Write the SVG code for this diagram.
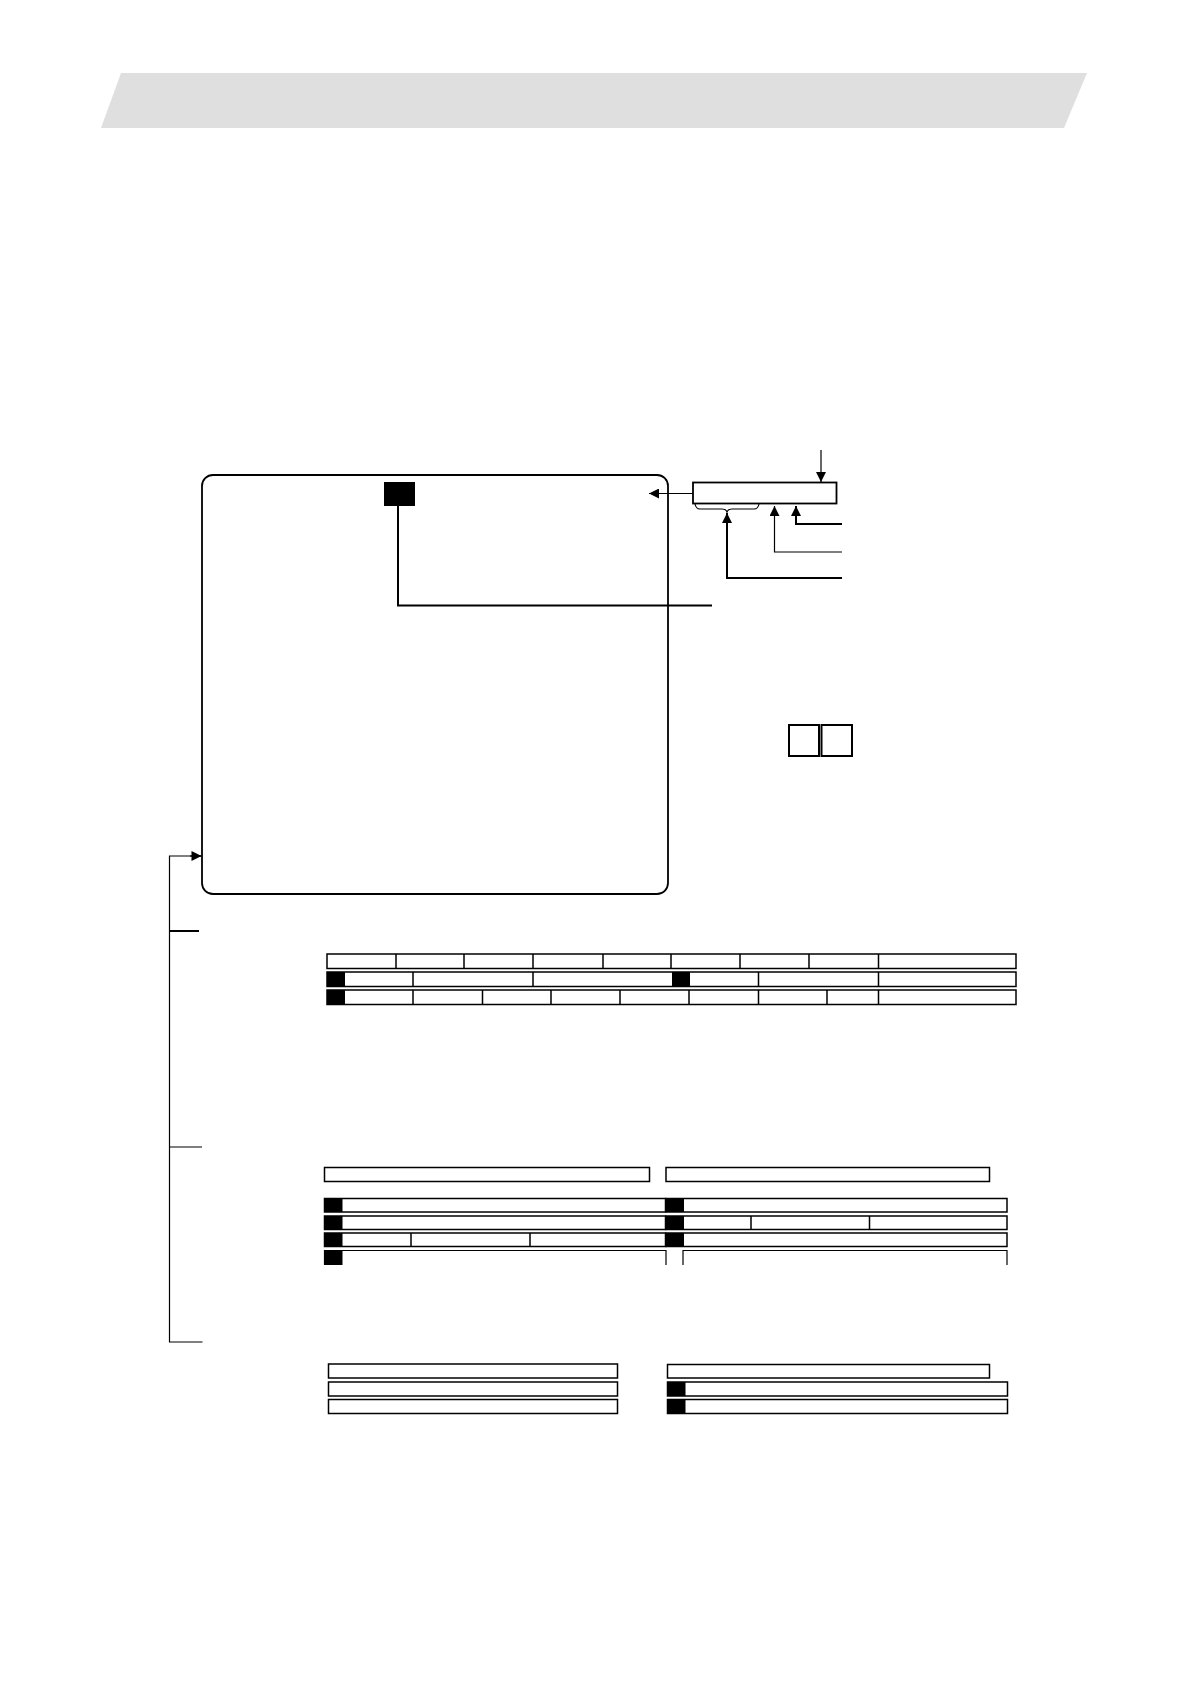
<svg xmlns="http://www.w3.org/2000/svg" width="1190" height="1684" viewBox="0 0 1190 1684">
<style>
.c{fill:#fff;stroke:#000;stroke-width:1.5}
.k{fill:#000}
.l{fill:none;stroke:#000;stroke-width:1.2}
.t{fill:none;stroke:#000;stroke-width:2}
.d{stroke:#000;stroke-width:1.5}
</style>
<defs>
<marker id="a" viewBox="0 0 10 10" refX="10" refY="5" markerWidth="11" markerHeight="10" markerUnits="userSpaceOnUse" orient="auto"><path d="M0,0L10,5L0,10z" fill="#000"/></marker>
</defs>
<rect width="1190" height="1684" fill="#fff"/>
<g id="banner"><polygon points="121,73 1087,73 1064,128 101,128" fill="#dfdfdf"/></g>
<g id="screen">
<rect x="202" y="475" width="466" height="419" rx="11" ry="11" fill="#fff" stroke="#000" stroke-width="1.8"/>
<rect x="384" y="482" width="31" height="24" class="k"/>
</g>
<g id="field">
<rect x="693" y="482.5" width="143.5" height="21" fill="#fff" stroke="#000" stroke-width="1.8"/>
<path d="M695,504 Q696,509 700,509 L722,509 Q726,509 727,512 Q728,509 732,509 L754,509 Q758,509 759,504" class="l" stroke-width="1.4"/>
</g>
<g id="keys">
<rect x="789" y="725" width="30" height="31" class="t"/>
<rect x="821.5" y="725" width="30.5" height="31" class="t"/>
</g>
<g id="table1">
<rect x="327" y="954" width="689" height="14.5" class="c"/>
<path d="M396,954V968.5M464,954V968.5M533,954V968.5M603,954V968.5M671,954V968.5M740,954V968.5M809,954V968.5M878.5,954V968.5" class="d"/>
<rect x="327" y="972" width="689" height="14.5" class="c"/>
<rect x="327" y="972" width="18" height="14.5" class="k"/>
<rect x="672" y="972" width="18" height="14.5" class="k"/>
<path d="M413,972V986.5M533,972V986.5M758.5,972V986.5M878.5,972V986.5" class="d"/>
<rect x="327" y="990" width="689" height="14.5" class="c"/>
<rect x="327" y="990" width="18" height="14.5" class="k"/>
<path d="M413,990V1004.5M482.5,990V1004.5M551,990V1004.5M620,990V1004.5M689,990V1004.5M758.5,990V1004.5M827,990V1004.5M878.5,990V1004.5" class="d"/>
</g>
<g id="table2">
<rect x="324.5" y="1167.5" width="325" height="14" class="c"/>
<rect x="666" y="1167.5" width="323.5" height="14" class="c"/>
<rect x="324.5" y="1198.5" width="341" height="13.5" class="c"/>
<rect x="666" y="1198.5" width="341" height="13.5" class="c"/>
<rect x="324.5" y="1198.5" width="18" height="13.5" class="k"/>
<rect x="666" y="1198.5" width="18" height="13.5" class="k"/>
<rect x="324.5" y="1216" width="341" height="13.5" class="c"/>
<rect x="666" y="1216" width="341" height="13.5" class="c"/>
<rect x="324.5" y="1216" width="18" height="13.5" class="k"/>
<rect x="666" y="1216" width="18" height="13.5" class="k"/>
<path d="M751,1216V1229.5M869.5,1216V1229.5" class="d"/>
<rect x="324.5" y="1233" width="341" height="13.5" class="c"/>
<rect x="666" y="1233" width="341" height="13.5" class="c"/>
<rect x="324.5" y="1233" width="18" height="13.5" class="k"/>
<rect x="666" y="1233" width="18" height="13.5" class="k"/>
<path d="M411,1233V1246.5M530,1233V1246.5" class="d"/>
<path d="M324.5,1265V1250.5H666V1265M683,1265V1250.5H1007V1265" class="l" stroke-width="1.5"/>
<rect x="324.5" y="1250.5" width="18" height="14.5" class="k"/>
</g>
<g id="table3">
<rect x="328.5" y="1364" width="289" height="14" class="c" stroke-width="2"/>
<rect x="328.5" y="1382" width="289" height="14" class="c" stroke-width="2"/>
<rect x="328.5" y="1399.5" width="289" height="14" class="c" stroke-width="2"/>
<rect x="667.5" y="1364.5" width="322" height="13.5" class="c"/>
<rect x="667.5" y="1382" width="340" height="14" class="c" stroke-width="2.5"/>
<rect x="667.5" y="1382" width="18" height="14" class="k"/>
<rect x="667.5" y="1399.5" width="340" height="14" class="c" stroke-width="1.8"/>
<rect x="667.5" y="1399.5" width="18" height="14" class="k"/>
</g>
<g id="connectors">
<path d="M398,506V605.5H712" class="t"/>
<path d="M693,493.5H649" class="l" marker-end="url(#a)"/>
<path d="M821,450V482" class="l" stroke-width="1.5" marker-end="url(#a)"/>
<path d="M842,578H727V513" class="t" marker-end="url(#a)"/>
<path d="M842,552H774.5V506" class="l" marker-end="url(#a)"/>
<path d="M842,524H796V506" class="t" marker-end="url(#a)"/>
<path d="M202,856H169.5V1342H202.5" class="l"/>
<path d="M190,856H201.5" class="l" marker-end="url(#a)"/>
<path d="M169.5,931H199" class="t"/>
<path d="M169.5,1147H202" class="l" stroke-width="1.5"/>
</g>
</svg>
